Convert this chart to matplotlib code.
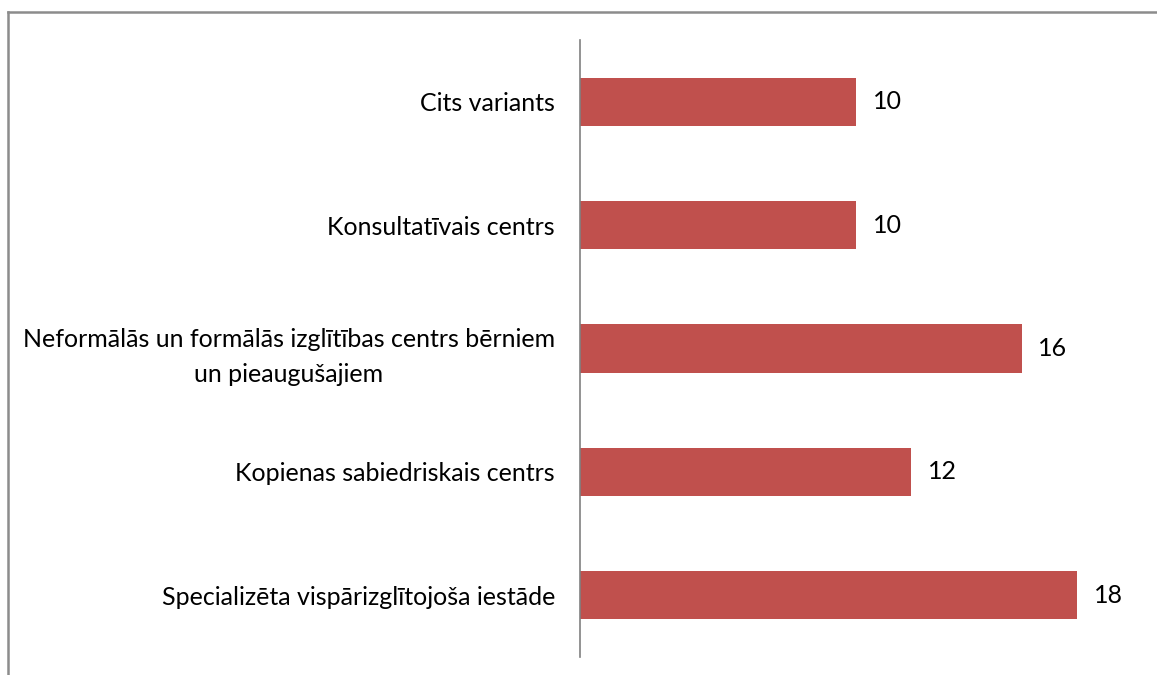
import matplotlib.pyplot as plt
from matplotlib.lines import Line2D

categories = [
    "Specializēta vispārizglītojoša iestāde",
    "Kopienas sabiedriskais centrs",
    "Neformālās un formālās izglītības centrs bērniem\nun pieaugušajiem",
    "Konsultatīvais centrs",
    "Cits variants",
]
values = [18, 12, 16, 10, 10]

plt.rcParams["font.family"] = ["Lato", "DejaVu Sans"]
FS = 18

fig = plt.figure(figsize=(11.57, 6.75), dpi=100)
ax = fig.add_axes([580 / 1157, 18 / 675, 552 / 1157, 617 / 675])

bars = ax.barh(range(len(values)), values, height=0.39, color="#c0504d")
ax.set_ylim(-0.5, len(values) - 0.5)
ax.set_xlim(0, 20)

for b, v in zip(bars, values):
    ax.annotate(str(v), (b.get_width(), b.get_y() + b.get_height() / 2),
                xytext=(12, 0), textcoords="offset points",
                va="center", ha="left", fontsize=FS)

ax.set_yticks(range(len(values)))
ax.set_yticklabels(categories, fontsize=FS, ha="right",
                   multialignment="center", linespacing=1.65)
ax.tick_params(axis="y", length=0, pad=18)
ax.set_xticks([])
for s in ["top", "right", "bottom"]:
    ax.spines[s].set_visible(False)
ax.spines["left"].set_color("#808080")
ax.spines["left"].set_linewidth(1.2)

# outer chart border (top and left visible)
fig.add_artist(Line2D([8 / 1157, 1], [1 - 12 / 675, 1 - 12 / 675],
                      transform=fig.transFigure, color="#8c8c8c", lw=1.8))
fig.add_artist(Line2D([8 / 1157, 8 / 1157], [0, 1 - 12 / 675],
                      transform=fig.transFigure, color="#8c8c8c", lw=1.8))

fig.savefig("out.png", dpi=100)
